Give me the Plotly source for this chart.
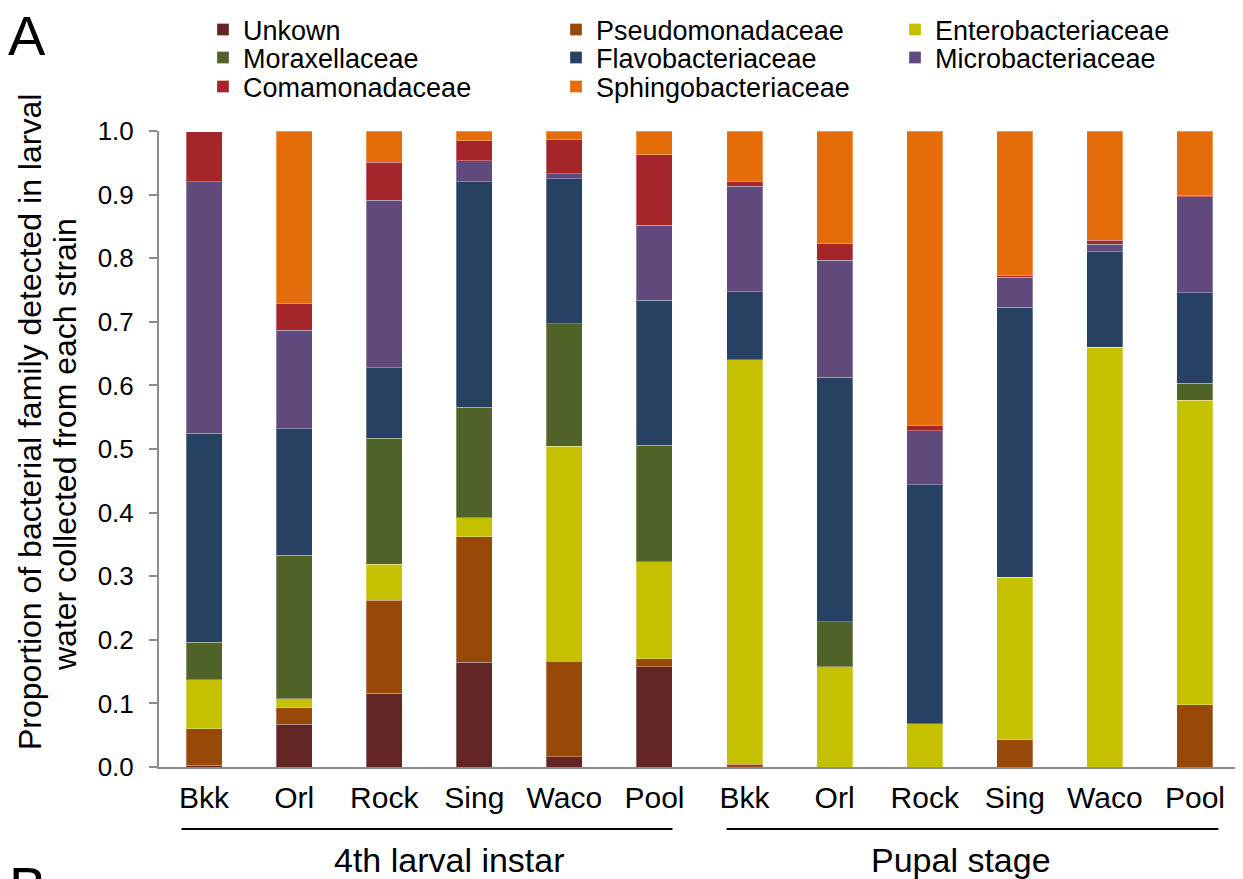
import plotly.graph_objects as go
import numpy as np

strains = ["Bkk", "Orl", "Rock", "Sing", "Waco", "Pool",
           "Bkk", "Orl", "Rock", "Sing", "Waco", "Pool"]
stages = ["4th larval instar", "Pupal stage"]

families = ["Unkown", "Pseudomonadaceae", "Enterobacteriaceae", "Moraxellaceae",
            "Flavobacteriaceae", "Microbacteriaceae", "Comamonadaceae", "Sphingobacteriaceae"]

unknown = [0.003, 0.067, 0.116, 0.165, 0.016, 0.158, 0, 0, 0, 0, 0, 0]
pseudomonadaceae = [0.057, 0.026, 0.146, 0.197, 0.150, 0.012, 0.004, 0, 0, 0.043, 0, 0.098]
enterobacteriaceae = [0.077, 0.014, 0.057, 0.030, 0.338, 0.153, 0.636, 0.158, 0.068, 0.255, 0.660, 0.479]
moraxellaceae = [0.059, 0.226, 0.198, 0.174, 0.193, 0.183, 0, 0.070, 0, 0, 0, 0.026]
flavobacteriaceae = [0.329, 0.199, 0.111, 0.354, 0.228, 0.228, 0.107, 0.385, 0.376, 0.425, 0.150, 0.143]
microbacteriaceae = [0.395, 0.155, 0.263, 0.033, 0.008, 0.118, 0.166, 0.184, 0.085, 0.047, 0.012, 0.151]
comamonadaceae = [0.079, 0.042, 0.060, 0.032, 0.053, 0.111, 0.007, 0.026, 0.008, 0.003, 0.006, 0.002]
sphingobacteriaceae = [0, 0.271, 0.049, 0.015, 0.014, 0.037, 0.080, 0.177, 0.463, 0.227, 0.172, 0.101]

series = [unknown, pseudomonadaceae, enterobacteriaceae, moraxellaceae,
          flavobacteriaceae, microbacteriaceae, comamonadaceae, sphingobacteriaceae]
colors = ["#632523", "#984807", "#C5C000", "#4F6228",
          "#264161", "#604A7B", "#A4262A", "#E46C0A"]

FONT = "Liberation Sans, Arial, sans-serif"
OFF = 8                      # page body margin
W, H = 1243 - OFF, 879 - OFF
PLOT_L, PLOT_R, PLOT_T, PLOT_B = 159, 1240, 131, 767   # plot area in page pixels
L = PLOT_L - OFF
T = PLOT_T - OFF
R = W - (PLOT_R - OFF)
B = H - (PLOT_B - OFF)
PW = PLOT_R - PLOT_L
PH = PLOT_B - PLOT_T

x = np.arange(len(strains))

fig = go.Figure()
legend_names = ["legend"] + [f"legend{i}" for i in range(2, 9)]
for i, (name, vals, col) in enumerate(zip(families, series, colors)):
    fig.add_trace(go.Bar(
        x=x, y=vals, name=name, legend=legend_names[i],
        marker=dict(color=col, line=dict(color="rgba(255,255,255,0.3)", width=1)),
    ))


def cx(px):
    return (px - OFF) / W


def cy(py):
    return 1 - (py - OFF) / H


def px_x(px):
    return (px - PLOT_L) / PW


def px_y(py):
    return (PLOT_B - py) / PH


# legend layout: rows x columns (row-major order)
col_text_x = [243, 596, 935]
row_y = [30, 58, 87]
legend_layouts = {}
for i in range(len(families)):
    r, c = divmod(i, 3)
    legend_layouts[legend_names[i]] = dict(
        xref="container", yref="container",
        x=cx(col_text_x[c] - 40), y=cy(row_y[r]),
        xanchor="left", yanchor="middle",
        orientation="v", bgcolor="rgba(0,0,0,0)", borderwidth=0,
        font=dict(family=FONT, size=27, color="black"),
    )

annotations = [
    dict(text="Proportion of bacterial family detected in larval",
         xref="paper", yref="paper", x=px_x(30), y=px_y(422), textangle=-90,
         showarrow=False, xanchor="center", yanchor="middle",
         font=dict(family=FONT, size=32, color="black")),
    dict(text="water collected from each strain",
         xref="paper", yref="paper", x=px_x(65), y=px_y(445), textangle=-90,
         showarrow=False, xanchor="center", yanchor="middle",
         font=dict(family=FONT, size=32, color="black")),
    dict(text=stages[0], xref="x", yref="paper", x=2.72, y=px_y(860),
         showarrow=False, xanchor="center", yanchor="middle",
         font=dict(family=FONT, size=34, color="black")),
    dict(text=stages[1], xref="x", yref="paper", x=8.4, y=px_y(860),
         showarrow=False, xanchor="center", yanchor="middle",
         font=dict(family=FONT, size=34, color="black")),
    dict(text="A", xref="paper", yref="paper", x=px_x(27), y=px_y(36),
         showarrow=False, xanchor="center", yanchor="middle",
         font=dict(family=FONT, size=56, color="black")),
    dict(text="B", xref="paper", yref="paper", x=px_x(27), y=px_y(886),
         showarrow=False, xanchor="center", yanchor="middle",
         font=dict(family=FONT, size=56, color="black")),
]

shapes = [
    dict(type="line", xref="x", yref="paper", x0=-0.25, x1=5.2,
         y0=px_y(829), y1=px_y(829), line=dict(color="black", width=2)),
    dict(type="line", xref="x", yref="paper", x0=5.8, x1=11.26,
         y0=px_y(829), y1=px_y(829), line=dict(color="black", width=2)),
]

fig.update_layout(
    width=W, height=H,
    margin=dict(l=L, r=R, t=T, b=B, pad=0, autoexpand=False),
    paper_bgcolor="white", plot_bgcolor="white",
    barmode="stack", bargap=0.6,
    showlegend=True,
    font=dict(family=FONT, color="black"),
    annotations=annotations, shapes=shapes,
    xaxis=dict(
        range=[-0.5, 11.5], tickvals=x, ticktext=strains,
        showline=True, linecolor="#8c8c8c", linewidth=2,
        ticks="", showgrid=False, zeroline=False,
        tickfont=dict(family=FONT, size=30, color="black"),
        ticklabelstandoff=3, automargin=False,
    ),
    yaxis=dict(
        range=[0, 1], dtick=0.1, tick0=0, tickformat=".1f",
        showline=True, linecolor="#8c8c8c", linewidth=2,
        ticks="outside", ticklen=8, tickwidth=2, tickcolor="#8c8c8c",
        showgrid=False, zeroline=False,
        tickfont=dict(family=FONT, size=26, color="black"),
        ticklabelstandoff=10, automargin=False,
    ),
    **legend_layouts,
)

fig.write_html("out.html")
